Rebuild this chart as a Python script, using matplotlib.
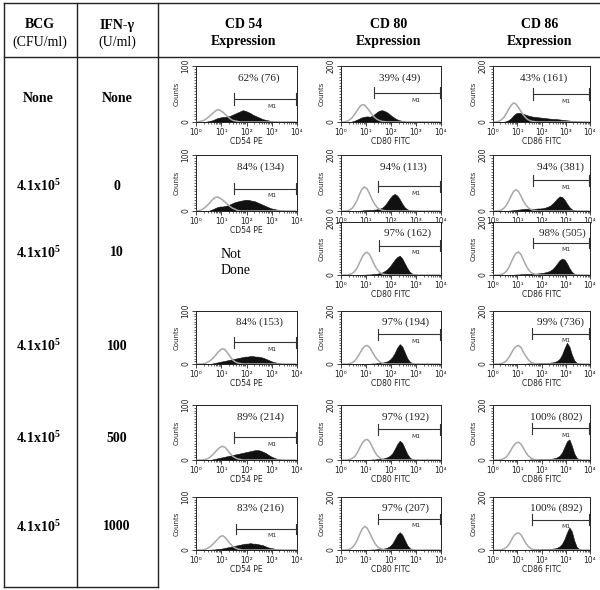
import matplotlib
matplotlib.use('Agg')
import matplotlib.pyplot as plt
import numpy as np
from matplotlib.ticker import MultipleLocator, FixedLocator, FixedFormatter, NullFormatter

plt.rcParams['mathtext.fontset'] = 'custom'
plt.rcParams['mathtext.rm'] = 'Liberation Serif:bold'
plt.rcParams['mathtext.bf'] = 'Liberation Serif:bold'
plt.rcParams['mathtext.it'] = 'Liberation Serif:bold'

# ---------------- table text ----------------
bcg_labels = ['None', '4.1x10$^{5}$', '4.1x10$^{5}$', '4.1x10$^{5}$', '4.1x10$^{5}$', '4.1x10$^{5}$']
ifn_labels = ['None', '0', '10', '100', '500', '1000']
marker_names = ['CD 54', 'CD 80', 'CD 86']
axis_names = ['CD54 PE', 'CD80 FITC', 'CD86 FITC']
ymax_values = [100, 200, 200]

# ---------------- histogram data (channel values, 10 bins per decade, 10^0..10^4) -------------
cd54_r1_gray = [0,1,2,4,7,11,15,19,22,21, 18,14,10,6,3,2,1,0,0,0, 0,0,0,0,0,0,0,0,0,0, 0,0,0,0,0,0,0,0,0,0]
cd54_r1_pos  = [0,0,0,0,1,2,3,5,7,8, 9,9,10,11,13,15,17,19,21,20, 18,16,13,11,9,7,5,4,3,2, 1,1,0,0,0,0,0,0,0,0]
cd54_r2_gray = [0,1,3,6,10,15,20,24,25,23, 20,16,12,8,5,3,1,0,0,0, 0,0,0,0,0,0,0,0,0,0, 0,0,0,0,0,0,0,0,0,0]
cd54_r2_pos  = [0,0,0,0,0,1,3,5,7,8, 8,9,10,12,14,16,17,18,19,20, 20,19,18,17,15,13,11,9,7,5, 4,3,2,1,1,0,0,0,0,0]
cd54_r4_gray = [0,0,0,1,3,6,10,15,21,26, 29,27,21,14,8,4,2,1,0,0, 0,0,0,0,0,0,0,0,0,0, 0,0,0,0,0,0,0,0,0,0]
cd54_r4_pos  = [0,0,0,0,0,0,1,2,3,4, 5,6,7,8,9,10,11,12,13,14, 14,15,15,14,14,13,12,10,8,6, 4,3,2,1,0,0,0,0,0,0]
cd54_r5_gray = [0,0,0,1,2,5,9,14,19,23, 25,23,18,12,7,4,2,1,0,0, 0,0,0,0,0,0,0,0,0,0, 0,0,0,0,0,0,0,0,0,0]
cd54_r5_pos  = [0,0,0,0,0,0,1,2,3,4, 5,6,7,8,9,10,11,12,13,14, 15,16,17,18,18,17,15,13,10,7, 5,3,2,1,0,0,0,0,0,0]
cd54_r6_gray = [0,0,0,1,3,6,10,15,20,25, 27,24,18,12,7,4,2,1,0,0, 0,0,0,0,0,0,0,0,0,0, 0,0,0,0,0,0,0,0,0,0]
cd54_r6_pos  = [0,0,0,0,0,0,1,1,2,2, 3,4,5,6,7,8,9,10,11,12, 12,13,12,12,11,10,9,7,5,4, 3,2,1,1,0,0,0,0,0,0]

cd80_r1_gray = [0,1,3,8,16,28,42,55,62,60, 50,38,26,16,9,5,2,1,0,0, 0,0,0,0,0,0,0,0,0,0, 0,0,0,0,0,0,0,0,0,0]
cd80_r1_pos  = [0,0,0,0,2,5,9,13,17,19, 20,19,22,29,36,41,42,39,34,27, 20,14,9,6,4,2,1,1,0,0, 0,0,0,0,0,0,0,0,0,0]
cd80_r2_gray = [0,0,1,4,10,22,40,62,80,86, 78,60,40,24,12,6,3,1,0,0, 0,0,0,0,0,0,0,0,0,0, 0,0,0,0,0,0,0,0,0,0]
cd80_r2_pos  = [0,0,0,0,0,0,0,1,2,3, 3,4,4,5,6,8,12,20,32,45, 56,61,55,42,26,13,6,3,1,0, 0,0,0,0,0,0,0,0,0,0]
cd80_r3_gray = [0,0,0,2,6,14,28,48,68,82, 86,76,56,36,20,10,4,2,1,0, 0,0,0,0,0,0,0,0,0,0, 0,0,0,0,0,0,0,0,0,0]
cd80_r3_pos  = [0,0,0,0,0,0,0,0,1,1, 2,2,3,4,5,7,10,15,22,32, 45,58,68,73,62,44,26,12,5,2, 1,0,0,0,0,0,0,0,0,0]
cd80_r4_gray = [0,0,0,2,5,12,24,40,56,67, 70,62,46,30,17,8,3,1,0,0, 0,0,0,0,0,0,0,0,0,0, 0,0,0,0,0,0,0,0,0,0]
cd80_r4_pos  = [0,0,0,0,0,0,0,0,0,1, 1,1,2,2,3,4,5,7,10,16, 26,42,62,75,66,44,22,9,3,1, 0,0,0,0,0,0,0,0,0,0]
cd80_r5_gray = [0,0,0,2,6,13,26,44,62,72, 75,66,48,30,16,8,3,1,0,0, 0,0,0,0,0,0,0,0,0,0, 0,0,0,0,0,0,0,0,0,0]
cd80_r5_pos  = [0,0,0,0,0,0,0,0,0,1, 1,1,2,2,3,4,5,7,10,15, 24,40,58,70,62,42,22,9,3,1, 0,0,0,0,0,0,0,0,0,0]
cd80_r6_gray = [0,0,1,3,9,20,38,60,80,89, 82,64,44,26,13,6,3,1,0,0, 0,0,0,0,0,0,0,0,0,0, 0,0,0,0,0,0,0,0,0,0]
cd80_r6_pos  = [0,0,0,0,0,0,0,0,0,1, 1,1,2,2,3,3,4,6,9,14, 24,40,58,67,58,38,18,7,2,1, 0,0,0,0,0,0,0,0,0,0]

cd86_r1_gray = [0,1,3,8,17,30,46,60,68,64, 52,38,25,15,8,4,2,1,0,0, 0,0,0,0,0,0,0,0,0,0, 0,0,0,0,0,0,0,0,0,0]
cd86_r1_pos  = [0,0,0,0,1,3,7,14,24,31, 33,32,29,26,23,21,19,18,17,16, 15,14,13,12,11,11,10,9,8,7, 6,5,4,3,2,2,1,1,0,0]
cd86_r2_gray = [0,0,1,4,10,20,36,54,70,76, 70,54,36,22,12,6,3,1,0,0, 0,0,0,0,0,0,0,0,0,0, 0,0,0,0,0,0,0,0,0,0]
cd86_r2_pos  = [0,0,0,0,0,0,1,2,3,4, 5,6,7,8,8,8,8,8,9,9, 10,12,15,19,26,35,45,52,50,40, 26,14,6,3,1,0,0,0,0,0]
cd86_r3_gray = [0,0,0,2,6,14,28,48,68,82, 87,78,58,38,22,11,5,2,1,0, 0,0,0,0,0,0,0,0,0,0, 0,0,0,0,0,0,0,0,0,0]
cd86_r3_pos  = [0,0,0,0,0,0,0,1,1,2, 2,3,3,4,4,4,5,5,6,7, 8,10,12,16,22,32,44,56,62,58, 44,26,12,5,2,1,0,0,0,0]
cd86_r4_gray = [0,0,0,2,5,12,24,40,56,66, 70,63,46,30,17,8,3,1,0,0, 0,0,0,0,0,0,0,0,0,0, 0,0,0,0,0,0,0,0,0,0]
cd86_r4_pos  = [0,0,0,0,0,0,0,0,0,0, 1,1,1,1,2,2,2,2,3,3, 3,4,4,5,6,8,12,20,36,60, 80,66,36,14,5,2,1,0,0,0]
cd86_r5_gray = [0,0,0,2,5,11,22,38,52,62, 65,58,44,28,16,8,3,1,0,0, 0,0,0,0,0,0,0,0,0,0, 0,0,0,0,0,0,0,0,0,0]
cd86_r5_pos  = [0,0,0,0,0,0,0,0,0,0, 0,1,1,1,1,2,2,2,2,3, 3,3,4,4,5,7,10,16,28,48, 68,75,52,24,8,3,1,0,0,0]
cd86_r6_gray = [0,0,0,1,4,10,20,36,52,62, 65,58,42,26,14,6,2,1,0,0, 0,0,0,0,0,0,0,0,0,0, 0,0,0,0,0,0,0,0,0,0]
cd86_r6_pos  = [0,0,0,0,0,0,0,0,0,0, 0,0,1,1,1,1,2,2,2,2, 3,3,3,4,5,6,9,14,24,42, 66,85,70,36,12,4,1,0,0,0]

# gate statistics: percent positive and mean fluorescence
cd54_stats = ['62% (76)', '84% (134)', None, '84% (153)', '89% (214)', '83% (216)']
cd80_stats = ['39% (49)', '94% (113)', '97% (162)', '97% (194)', '97% (192)', '97% (207)']
cd86_stats = ['43% (161)', '94% (381)', '98% (505)', '99% (736)', '100% (802)', '100% (892)']
# M1 gate start (fluorescence channel) and level (counts)
cd54_gate = [32, 32, None, 32, 32, 40]
cd80_gate = [21, 30, 32, 30, 30, 30]
cd86_gate = [43, 43, 43, 40, 40, 40]
cd54_gate_level = [41, 40, None, 41, 41, 40]
cd80_gate_level = [104, 88, 111, 112, 112, 117]
cd86_gate_level = [100, 109, 121, 115, 115, 115]

gray_sets = [[cd54_r1_gray, cd54_r2_gray, None, cd54_r4_gray, cd54_r5_gray, cd54_r6_gray],
             [cd80_r1_gray, cd80_r2_gray, cd80_r3_gray, cd80_r4_gray, cd80_r5_gray, cd80_r6_gray],
             [cd86_r1_gray, cd86_r2_gray, cd86_r3_gray, cd86_r4_gray, cd86_r5_gray, cd86_r6_gray]]
pos_sets = [[cd54_r1_pos, cd54_r2_pos, None, cd54_r4_pos, cd54_r5_pos, cd54_r6_pos],
            [cd80_r1_pos, cd80_r2_pos, cd80_r3_pos, cd80_r4_pos, cd80_r5_pos, cd80_r6_pos],
            [cd86_r1_pos, cd86_r2_pos, cd86_r3_pos, cd86_r4_pos, cd86_r5_pos, cd86_r6_pos]]
stat_sets = [cd54_stats, cd80_stats, cd86_stats]
gate_sets = [cd54_gate, cd80_gate, cd86_gate]
level_sets = [cd54_gate_level, cd80_gate_level, cd86_gate_level]

# ---------------- layout (pixels) ----------------
W, H = 600, 590
col_x = [(196, 297), (341, 441), (493, 590)]
row_y = [(66, 122), (155, 211), (222, 275), (311, 364), (405, 460), (497, 550)]
label_y = [98, 186, 253, 346, 438, 527]
header_x = [244, 389, 540]
# text x positions (log10 units) for stats
text_logx = [[2.5, 2.55, None, 2.5, 2.55, 2.55],
             [2.35, 2.5, 2.65, 2.6, 2.6, 2.6],
             [2.1, 2.8, 2.85, 2.8, 2.6, 2.6]]

fig = plt.figure(figsize=(6, 5.9), dpi=100)
bg = fig.add_axes([0, 0, 1, 1])
bg.set_xlim(0, W)
bg.set_ylim(H, 0)
bg.axis('off')

lc = '#222222'
lw = 1.0
bg.plot([4, 600], [3, 3], color=lc, lw=lw)
bg.plot([4, 600], [57, 57], color=lc, lw=lw)
bg.plot([4, 158], [587, 587], color=lc, lw=lw)
for xv in [4, 77, 158]:
    bg.plot([xv, xv], [3, 587], color=lc, lw=lw)

serif = 'Liberation Serif'
bg.text(40, 25, 'BCG', ha='center', va='center', fontsize=10, fontweight='bold', family=serif)
bg.text(40, 42, '(CFU/ml)', ha='center', va='center', fontsize=10, family=serif)
bg.text(117, 25, 'IFN-γ', ha='center', va='center', fontsize=10, fontweight='bold', family=serif)
bg.text(117, 42, '(U/ml)', ha='center', va='center', fontsize=10, family=serif)
for hx, nm in zip(header_x, marker_names):
    bg.text(hx, 25, nm, ha='center', va='center', fontsize=10, fontweight='bold', family=serif)
    bg.text(hx, 42, 'Expression', ha='center', va='center', fontsize=10, fontweight='bold', family=serif)

for yv, b, f in zip(label_y, bcg_labels, ifn_labels):
    bg.text(38, yv, b, ha='center', va='center', fontsize=10, fontweight='bold', family=serif)
    bg.text(117, yv, f, ha='center', va='center', fontsize=10, fontweight='bold', family=serif)

bg.text(221, 254, 'Not', ha='left', va='center', fontsize=10, family=serif)
bg.text(221, 271, 'Done', ha='left', va='center', fontsize=10, family=serif)

chan = 10 ** (np.arange(40) * 0.1 + 0.05)
tick_txt = ['10⁰', '10¹', '10²', '10³', '10⁴']
minor_x = [m * 10 ** d for d in range(4) for m in range(2, 10)]

for c in range(3):
    ymax = ymax_values[c]
    for r in range(6):
        gray = gray_sets[c][r]
        if gray is None:
            continue
        pos = pos_sets[c][r]
        x0, x1 = col_x[c]
        y0, y1 = row_y[r]
        ax = fig.add_axes([x0 / W, 1 - y1 / H, (x1 - x0) / W, (y1 - y0) / H])
        ax.fill_between(chan, 0, pos, color='#111111', lw=0.4, edgecolor='#111111', zorder=2)
        ax.plot(chan, gray, color='#a8a8a8', lw=1.1, zorder=3)
        ax.set_xscale('log')
        ax.set_xlim(1, 1e4)
        ax.set_ylim(0, ymax)
        ax.xaxis.set_major_locator(FixedLocator([1, 10, 100, 1000, 10000]))
        ax.xaxis.set_major_formatter(FixedFormatter(tick_txt))
        ax.xaxis.set_minor_locator(FixedLocator(minor_x))
        ax.xaxis.set_minor_formatter(NullFormatter())
        ax.yaxis.set_major_locator(FixedLocator([0, ymax]))
        ax.yaxis.set_major_formatter(FixedFormatter(['0', str(ymax)]))
        ax.yaxis.set_minor_locator(MultipleLocator(ymax / 20))
        ax.tick_params(which='major', direction='out', length=3, width=0.6, labelsize=5.5, pad=1, colors='#222222')
        ax.tick_params(which='minor', direction='out', length=1.6, width=0.5, colors='#222222')
        for lab in ax.get_yticklabels():
            lab.set_rotation(90)
            lab.set_va('center')
        for s in ax.spines.values():
            s.set_linewidth(0.7)
            s.set_color('#222222')
        ax.set_ylabel('Counts', fontsize=5, labelpad=1.5, color='#222222')
        if not (r == 1 and c > 0):
            ax.set_xlabel(axis_names[c], fontsize=5.5, labelpad=0.5, color='#222222')
        # M1 gate
        g = gate_sets[c][r]
        lv = level_sets[c][r]
        ax.plot([g, 9000], [lv, lv], color='#333333', lw=0.8, zorder=4)
        ax.plot([g, g], [lv - 0.1 * ymax, lv + 0.1 * ymax], color='#333333', lw=0.8, zorder=4)
        ax.plot([9000, 9000], [lv - 0.1 * ymax, lv + 0.1 * ymax], color='#333333', lw=0.8, zorder=4)
        ax.text(10 ** 3.0, lv - 0.13 * ymax, 'M1', fontsize=4.5, ha='center', va='center', color='#333333')
        ax.text(10 ** text_logx[c][r], 0.78 * ymax, stat_sets[c][r], fontsize=8, ha='center', va='center',
                family=serif, color='#222222')

fig.savefig('out.png', dpi=100)
